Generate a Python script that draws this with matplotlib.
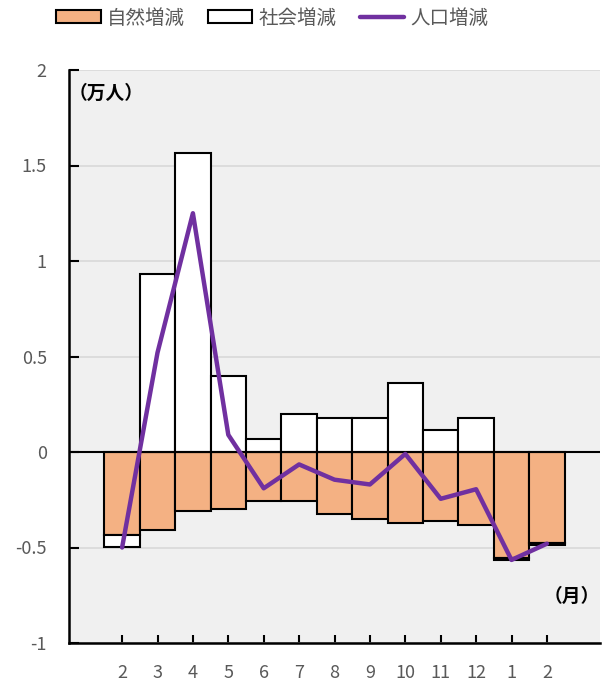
import matplotlib
matplotlib.use("Agg")
import matplotlib.pyplot as plt
from matplotlib.patches import Patch
from matplotlib.lines import Line2D
import numpy as np

plt.rcParams['font.family'] = ['Noto Sans CJK JP', 'DejaVu Sans']

months = ["2", "3", "4", "5", "6", "7", "8", "9", "10", "11", "12", "1", "2"]
natural = [-0.435, -0.41, -0.31, -0.30, -0.255, -0.255, -0.325, -0.35, -0.37, -0.36, -0.38, -0.557, -0.475]
social = [-0.06, 0.93, 1.565, 0.40, 0.068, 0.20, 0.18, 0.18, 0.36, 0.115, 0.18, -0.01, -0.01]
total = [-0.50, 0.52, 1.25, 0.09, -0.19, -0.065, -0.145, -0.17, -0.01, -0.245, -0.195, -0.565, -0.48]

ORANGE = '#F4B183'
PURPLE = '#7030A0'
GRAY = '#595959'

x = np.arange(len(months))
nat = np.array(natural)
soc = np.array(social)
# social change stacks below natural when it is negative
soc_bottom = np.where(soc < 0, nat, 0)

fig = plt.figure(figsize=(6.02, 6.82), dpi=100)
ax = fig.add_axes([69 / 602, 39 / 682, 531 / 602, 573 / 682])
ax.set_facecolor('#F0F0F0')

ax.bar(x, nat, width=1.0, color=ORANGE, edgecolor='black', linewidth=1.5, zorder=3)
ax.bar(x, soc, bottom=soc_bottom, width=1.0, color='white', edgecolor='black', linewidth=1.5, zorder=3)
ax.plot(x, total, color=PURPLE, linewidth=3.2, solid_capstyle='round', zorder=5)

ax.axhline(0, color='black', linewidth=1.5, zorder=4)

ax.set_xlim(-1.5, len(months) + 0.5)
ax.set_ylim(-1, 2)
ax.set_yticks([-1, -0.5, 0, 0.5, 1, 1.5, 2])
ax.set_yticklabels(['-1', '-0.5', '0', '0.5', '1', '1.5', '2'])
ax.yaxis.grid(True, color='#D9D9D9', linewidth=1.2, zorder=0)
ax.set_axisbelow(True)
ax.set_xticks(x)
ax.set_xticklabels(months)

ax.tick_params(axis='y', direction='in', length=7, width=1.5, pad=16, labelsize=13, labelcolor=GRAY)
ax.tick_params(axis='x', direction='in', length=6, width=1.5, pad=15, labelsize=13, labelcolor=GRAY)

for side in ['top', 'right']:
    ax.spines[side].set_visible(False)
for side in ['left', 'bottom']:
    ax.spines[side].set_linewidth(1.8)

ax.text(0.0, 0.975, '（万人）', transform=ax.transAxes, fontsize=13.5, fontweight='bold',
        ha='left', va='top', color='black')
ax.text(1.0, 0.082, '（月）', transform=ax.transAxes, fontsize=13.5, fontweight='bold',
        ha='right', va='center', color='black')

handles = [
    Patch(facecolor=ORANGE, edgecolor='black', linewidth=1.5, label='自然増減'),
    Patch(facecolor='white', edgecolor='black', linewidth=1.5, label='社会増減'),
    Line2D([], [], color=PURPLE, linewidth=3.2, solid_capstyle='round', label='人口増減'),
]
fig.legend(handles=handles, loc='center', bbox_to_anchor=(272 / 602, 1 - 18 / 682), ncol=3,
           frameon=False, fontsize=14, labelcolor=GRAY, handlelength=2.3, handleheight=0.6,
           handletextpad=0.3, columnspacing=1.2)

fig.savefig('out.png', dpi=100)
